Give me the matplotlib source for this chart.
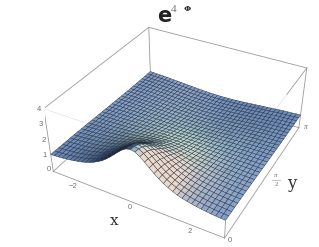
import numpy as np
import matplotlib
matplotlib.use("Agg")
import matplotlib.pyplot as plt

# height, x >= 0 half (left half mirrors it), one row per y mesh line
z_half = np.array([
    [3.33,3.28,3.11,2.88,2.63,2.39,2.17,1.98,1.83,1.69,1.58,1.49,1.42,1.36,1.31,1.26,1.23,1.19,1.17,1.15,1.13],
    [3.29,3.24,3.07,2.85,2.61,2.37,2.16,1.97,1.82,1.69,1.58,1.49,1.41,1.35,1.30,1.26,1.22,1.19,1.17,1.15,1.13],
    [3.17,3.13,2.97,2.77,2.54,2.31,2.11,1.94,1.80,1.67,1.56,1.48,1.41,1.35,1.30,1.25,1.22,1.19,1.16,1.14,1.12],
    [2.99,2.95,2.82,2.64,2.44,2.24,2.05,1.89,1.76,1.64,1.54,1.46,1.39,1.33,1.29,1.25,1.21,1.18,1.16,1.14,1.12],
    [2.77,2.74,2.62,2.48,2.30,2.13,1.97,1.83,1.71,1.60,1.51,1.43,1.37,1.32,1.27,1.23,1.20,1.18,1.15,1.13,1.11],
    [2.54,2.51,2.42,2.30,2.16,2.01,1.88,1.75,1.64,1.55,1.47,1.40,1.34,1.30,1.25,1.22,1.19,1.16,1.14,1.12,1.11],
    [2.30,2.28,2.22,2.12,2.01,1.89,1.77,1.67,1.58,1.49,1.43,1.37,1.31,1.27,1.23,1.20,1.18,1.15,1.13,1.12,1.10],
    [2.08,2.07,2.02,1.94,1.86,1.76,1.67,1.58,1.51,1.44,1.38,1.33,1.28,1.24,1.21,1.18,1.16,1.14,1.12,1.10,1.09],
    [1.88,1.87,1.83,1.78,1.71,1.64,1.56,1.50,1.43,1.38,1.33,1.28,1.25,1.21,1.19,1.16,1.14,1.12,1.11,1.09,1.08],
    [1.70,1.69,1.66,1.62,1.57,1.52,1.46,1.41,1.36,1.32,1.28,1.24,1.21,1.18,1.16,1.14,1.12,1.11,1.09,1.08,1.07],
    [1.54,1.53,1.51,1.49,1.45,1.41,1.37,1.33,1.29,1.26,1.23,1.20,1.17,1.15,1.13,1.12,1.10,1.09,1.08,1.07,1.06],
    [1.40,1.39,1.38,1.36,1.34,1.31,1.28,1.25,1.23,1.20,1.18,1.16,1.14,1.12,1.10,1.09,1.08,1.07,1.06,1.05,1.05],
    [1.28,1.27,1.27,1.25,1.24,1.22,1.20,1.18,1.16,1.14,1.13,1.11,1.10,1.09,1.08,1.07,1.06,1.05,1.05,1.04,1.04],
    [1.17,1.17,1.16,1.16,1.15,1.14,1.13,1.11,1.10,1.09,1.08,1.07,1.07,1.06,1.05,1.04,1.04,1.04,1.03,1.03,1.02],
    [1.08,1.08,1.08,1.07,1.07,1.06,1.06,1.05,1.05,1.04,1.04,1.04,1.03,1.03,1.02,1.02,1.02,1.02,1.02,1.01,1.01],
    [1.00,1.00,1.00,1.00,1.00,1.00,1.00,1.00,1.00,1.00,1.00,1.00,1.00,1.00,1.00,1.00,1.00,1.00,1.00,1.00,1.00],
    [.93,.93,.93,.94,.94,.94,.95,.95,.95,.96,.96,.97,.97,.97,.98,.98,.98,.98,.99,.99,.99],
    [.87,.87,.88,.88,.89,.89,.90,.91,.91,.92,.93,.94,.94,.95,.95,.96,.96,.97,.97,.97,.98],
    [.82,.82,.83,.83,.84,.85,.86,.87,.88,.89,.90,.91,.92,.93,.93,.94,.95,.95,.96,.96,.97],
    [.78,.78,.78,.79,.80,.81,.82,.83,.84,.86,.87,.88,.89,.90,.91,.92,.93,.94,.94,.95,.96],
    [.74,.74,.75,.75,.76,.77,.79,.80,.82,.83,.84,.86,.87,.88,.90,.91,.92,.92,.93,.94,.95],
    [.71,.71,.71,.72,.73,.75,.76,.77,.79,.81,.82,.84,.85,.87,.88,.89,.90,.91,.92,.93,.94],
    [.68,.68,.69,.70,.71,.72,.73,.75,.77,.78,.80,.82,.84,.85,.86,.88,.89,.90,.91,.92,.93],
    [.66,.66,.66,.67,.68,.70,.71,.73,.75,.77,.78,.80,.82,.84,.85,.87,.88,.89,.90,.91,.92],
    [.64,.64,.65,.65,.67,.68,.70,.71,.73,.75,.77,.79,.81,.82,.84,.86,.87,.88,.90,.91,.92],
    [.62,.62,.63,.64,.65,.67,.68,.70,.72,.74,.76,.78,.80,.81,.83,.85,.86,.88,.89,.90,.91],
    [.61,.61,.62,.63,.64,.65,.67,.69,.71,.73,.75,.77,.79,.81,.82,.84,.86,.87,.88,.90,.91],
    [.60,.60,.61,.62,.63,.64,.66,.68,.70,.72,.74,.76,.78,.80,.82,.83,.85,.87,.88,.89,.90],
    [.59,.60,.60,.61,.62,.64,.65,.67,.69,.71,.73,.76,.78,.80,.81,.83,.85,.86,.88,.89,.90],
    [.59,.59,.60,.61,.62,.63,.65,.67,.69,.71,.73,.75,.77,.79,.81,.83,.85,.86,.87,.89,.90],
    [.59,.59,.60,.60,.62,.63,.65,.67,.69,.71,.73,.75,.77,.79,.81,.83,.85,.86,.87,.89,.90],
])
x_ticks = ["−2", "0", "2"]
z_ticks = ["0", "1", "2", "3", "4"]

Z = np.hstack([z_half[:, :0:-1], z_half])
x = np.linspace(-np.pi, np.pi, Z.shape[1])
y = np.linspace(0, np.pi, Z.shape[0])
X, Y = np.meshgrid(x, y)

# colours from the slope, roughly like the coloured lights in the picture
gy, gx = np.gradient(Z, y, x)
flat = np.array([0.45, 0.58, 0.78])
pink = np.array([0.93, 0.85, 0.80])
dark = np.array([0.04, 0.12, 0.26])
mint = np.array([0.78, 0.90, 0.80])
rgb = np.ones(Z.shape + (3,)) * flat
t = np.clip(-gy * 0.9, 0, 0.8)[..., None]
rgb = rgb * (1 - t) + mint * t
t = np.clip(-gx * 1.1, 0, 1)[..., None]
rgb = rgb * (1 - t) + pink * t
t = np.clip(gx * 0.9, 0, 0.95)[..., None]
rgb = rgb * (1 - t) + dark * t

fig = plt.figure(figsize=(3.19, 2.47), dpi=100)
W, H = 319.0, 247.0
side = 266.2
ax = fig.add_axes([45.04 / W, -8.66 / H, side / W, side / H], projection="3d", computed_zorder=False)
ax.set_xlim(-np.pi, np.pi, view_margin=0)
ax.set_ylim(0, np.pi, view_margin=0)
ax.set_zlim(0, 4, view_margin=0)
ax.view_init(elev=35.21, azim=-61.25)
ax.set_proj_type("persp", focal_length=0.436)
ax.set_box_aspect((1, 0.995, 0.4))
ax.set_axis_off()

grey = "#9a9a9a"
p = np.pi
back = [([-p, -p], [0, p], [4, 4]), ([-p, p], [p, p], [4, 4]),
        ([-p, -p], [p, p], [0, 4]), ([p, p], [p, p], [0, 4]),
        ([-p, -p], [0, 0], [0, 4]), ([-p, p], [0, 0], [0, 0]),
        ([p, p], [0, p], [0, 0]), ([-p, -p], [0, p], [0, 0]),
        ([-p, p], [p, p], [0, 0]), ([p, p], [p, 2.2], [4, 4])]
for bx, by, bz in back:
    ax.plot(bx, by, bz, color=grey, lw=0.6, zorder=1)

ax.plot_surface(X, Y, Z, rstride=1, cstride=1, facecolors=rgb, shade=False,
                edgecolor="#232a38", linewidth=0.3, antialiased=True, zorder=2)

# front box edges only show faintly through the surface
for bx, by, bz in [([p, p], [2.2, 0], [4, 4]), ([-p, p], [0, 0], [4, 4]), ([p, p], [0, 0], [1.1, 4])]:
    ax.plot(bx, by, bz, color="#333333", lw=0.4, alpha=0.18, zorder=3)
ax.plot([p, p], [0, 0], [0, 1.1], color=grey, lw=0.6, zorder=3)


def label(px, py, s, **kw):
    fig.text(px / W, 1 - py / H, s, ha="center", va="center", **kw)


tick = dict(fontsize=5.5, color="#707070", family="Liberation Sans")
for (px, py), s in zip([(49, 169), (45, 155), (44, 140), (41, 124), (39, 109)], z_ticks):
    label(px, py, s, **tick)
for (px, py), s in zip([(73, 186), (130, 207), (190, 231)], x_ticks):
    label(px, py, s, **tick)
label(230, 240, "0", **tick)
label(306, 127, "π", fontsize=5.5, color="#707070", family="Liberation Serif", style="italic")
label(276, 175, "π", fontsize=5, color="#707070", family="Liberation Serif", style="italic")
label(276, 184, "2", fontsize=5, color="#707070", family="Liberation Serif")
fig.add_artist(plt.Line2D([272 / W, 280 / W], [1 - 179.5 / H, 1 - 179.5 / H], color="#909090", lw=0.4))

serif = dict(family="DejaVu Serif", color="#333333")
label(114, 221, "x", fontsize=11, **serif)
label(292, 183, "y", fontsize=12, **serif)
label(164, 16, "e", fontsize=15, fontweight="bold", family="DejaVu Sans", color="#222222")
label(174, 9, "4", fontsize=8, color="#777777", family="Liberation Serif")
label(187, 9, "Φ", fontsize=6, fontweight="bold", family="DejaVu Serif", color="#333333")

fig.savefig("out.png", dpi=100)
